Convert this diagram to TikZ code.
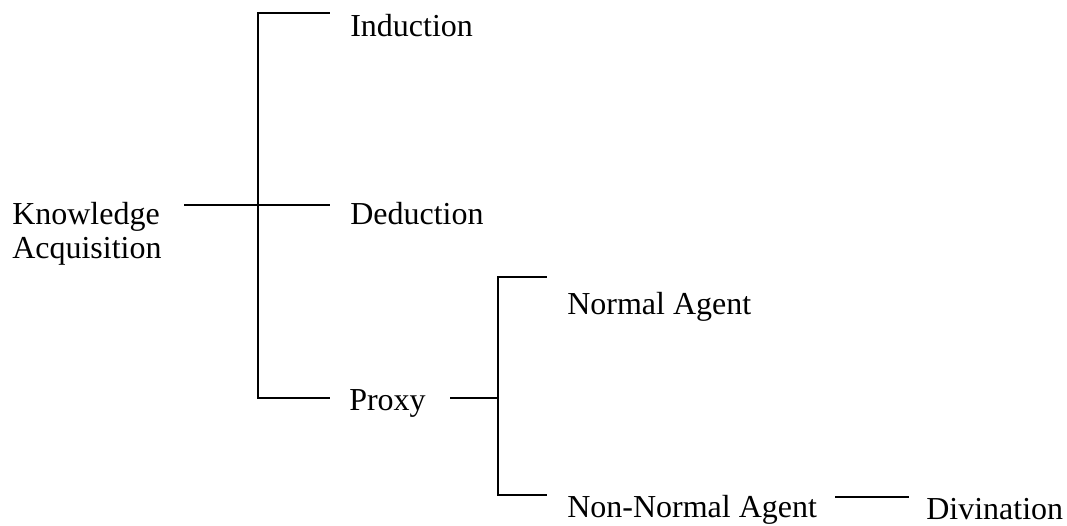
\documentclass[tikz,border=0pt]{standalone}
\usepackage{fontspec}
\setmainfont{Liberation Serif}
\begin{document}
\begin{tikzpicture}[x=0.75pt,y=-0.75pt,
  lbl/.style={anchor=base west,inner sep=0pt,font=\fontsize{24}{25.5}\selectfont},
  conn/.style={line width=1pt,line cap=rect}]
\useasboundingbox (0,0) rectangle (1067,525);

% labels
\node[lbl,anchor=north west,align=left] (ka) at (12,202) {Knowledge\\Acquisition};
\node[lbl] (ind) at (350,36) {Induction};
\node[lbl] (ded) at (350,224) {Deduction};
\node[lbl] (prx) at (349,410) {Proxy};
\node[lbl] (na) at (567,314) {Normal Agent};
\node[lbl] (nna) at (567,517) {Non-Normal Agent};
\node[lbl] (div) at (926,519) {Divination};

% bracket joints and line ends
\coordinate (kaR) at (185,205);
\coordinate (t1top) at (258,13);
\coordinate (t1bot) at (258,398);
\coordinate (indL) at (329,13);
\coordinate (dedL) at (329,205);
\coordinate (prxL) at (329,398);
\coordinate (prxR) at (451,398);
\coordinate (t2mid) at (498,398);
\coordinate (t2top) at (498,277);
\coordinate (t2bot) at (498,495);
\coordinate (naL) at (546,277);
\coordinate (nnaL) at (546,495);
\coordinate (nnaR) at (836,497);
\coordinate (divL) at (908,497);

% first bracket
\draw[conn] (kaR) -- (dedL);
\draw[conn] (indL) -- (t1top) -- (t1bot) -- (prxL);
% second bracket
\draw[conn] (prxR) -- (t2mid);
\draw[conn] (naL) -- (t2top) -- (t2bot) -- (nnaL);
% last link
\draw[conn] (nnaR) -- (divL);
\end{tikzpicture}
\end{document}
